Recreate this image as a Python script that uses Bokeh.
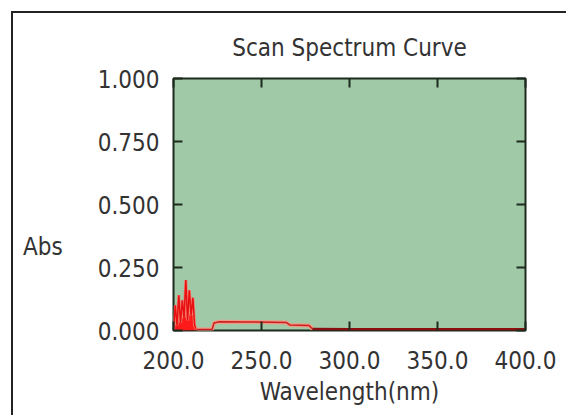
from bokeh.plotting import figure
from bokeh.models import Range1d, LinearAxis, FixedTicker, NumeralTickFormatter
from bokeh.embed import file_html
from bokeh.resources import INLINE

# ---- data ----
spike_wl = [200, 201, 202, 203, 204, 205, 206, 207, 208, 209, 210, 211, 212, 213]
spike_abs = [0.0, 0.10, 0.02, 0.14, 0.03, 0.12, 0.05, 0.20, 0.04, 0.16, 0.06, 0.13, 0.02, 0.004]
band_wl = [213, 222, 223, 226, 240, 255, 264, 266, 272, 277, 279]
band_abs = [0.004, 0.005, 0.030, 0.035, 0.034, 0.033, 0.032, 0.022, 0.021, 0.020, 0.006]
tail_wl = [279, 300, 350, 400]
tail_abs = [0.006, 0.005, 0.005, 0.005]
x_ticks = [200, 250, 300, 350, 400]
y_ticks = [0.0, 0.25, 0.5, 0.75, 1.0]

FONT = "DejaVu Sans Condensed"
FS = "24px"
TXT = "#333333"
FRAME = "#1f2a1f"

p = figure(width=555, height=404, output_backend="svg", toolbar_location=None,
           x_range=Range1d(200, 400), y_range=Range1d(0, 1),
           min_border_left=160, min_border_top=65, min_border_right=43, min_border_bottom=87)
p.styles = {"margin-left": "11px", "margin-top": "11px",
            "border-left": "2px solid #222222", "border-top": "2px solid #222222"}
p.background_fill_color = "#a0c9a8"
p.border_fill_color = "white"
p.outline_line_color = FRAME
p.outline_line_width = 2
p.grid.visible = False

p.title.text = "Scan Spectrum Curve"
p.title.align = "center"
p.title.text_font = FONT
p.title.text_font_size = FS
p.title.text_font_style = "normal"
p.title.text_color = TXT
p.title.standoff = 34

for ax in (p.xaxis[0], p.yaxis[0]):
    ax.axis_line_color = None
    ax.major_tick_in = 9
    ax.major_tick_out = 0
    ax.major_tick_line_color = FRAME
    ax.major_tick_line_width = 2
    ax.minor_tick_line_color = None
    ax.major_label_text_font = FONT
    ax.major_label_text_font_size = FS
    ax.major_label_text_color = TXT
    ax.axis_label_text_font = FONT
    ax.axis_label_text_font_size = FS
    ax.axis_label_text_font_style = "normal"
    ax.axis_label_text_color = TXT

p.xaxis.ticker = FixedTicker(ticks=x_ticks)
p.xaxis.formatter = NumeralTickFormatter(format="0.0")
p.xaxis.major_label_standoff = 20
p.xaxis.axis_label = "Wavelength(nm)"
p.xaxis.axis_label_standoff = 6

p.yaxis.ticker = FixedTicker(ticks=y_ticks)
p.yaxis.formatter = NumeralTickFormatter(format="0.000")
p.yaxis.major_label_standoff = 14
p.yaxis.axis_label = "\n\nAbs"
p.yaxis.axis_label_orientation = "horizontal"
p.yaxis.axis_label_text_baseline = "top"
p.yaxis.axis_label_text_line_height = 1.5
p.yaxis.axis_label_standoff = 32

# mirrored inside ticks on top and right
for loc, ticks in (("above", x_ticks), ("right", y_ticks)):
    a = LinearAxis(ticker=FixedTicker(ticks=ticks))
    a.axis_line_color = None
    a.major_tick_in = 9
    a.major_tick_out = 0
    a.major_tick_line_color = FRAME
    a.major_tick_line_width = 2
    a.minor_tick_line_color = None
    a.major_label_text_alpha = 0
    a.major_label_text_font_size = "1px"
    a.major_label_standoff = 0
    p.add_layout(a, loc)

# spectrum
p.varea(x=spike_wl, y1=0, y2=spike_abs, fill_color="#ff1a1a")
p.line(spike_wl, spike_abs, line_color="#f08070", line_width=3)
p.line(spike_wl, spike_abs, line_color="#e81010", line_width=1.5)
p.line(band_wl, band_abs, line_color="#f09a84", line_width=4)
p.line(band_wl, band_abs, line_color="#c82020", line_width=1.5)
p.line(tail_wl, tail_abs, line_color="#8a1010", line_width=2.5)

open("out.html", "w").write(file_html(p, INLINE))
